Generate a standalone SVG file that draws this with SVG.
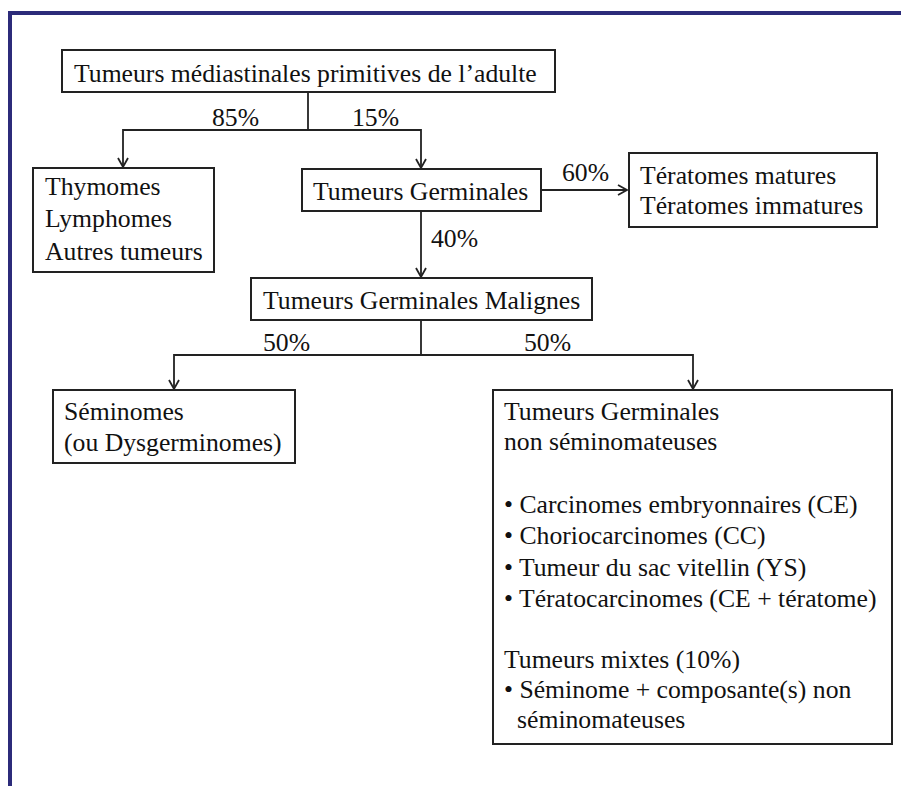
<svg xmlns="http://www.w3.org/2000/svg" width="901" height="786" viewBox="0 0 901 786">
<style>
.box{fill:#fff;stroke:#222;stroke-width:2}
.ln{fill:none;stroke:#222;stroke-width:1.8}
</style>
<defs>
<marker id="ah" markerWidth="12" markerHeight="12" viewBox="0 0 12 12" refX="10" refY="6" orient="auto" markerUnits="userSpaceOnUse">
<path d="M1,1 L10,6 L1,11" fill="none" stroke="#222" stroke-width="1.8"/>
</marker>
</defs>
<rect width="901" height="786" fill="#fff"/>
<path d="M10,786 V13 H901" fill="none" stroke="#2c2b7a" stroke-width="4"/>
<g font-family="Liberation Serif, Times New Roman, DejaVu Serif, serif" font-size="25.7" fill="#111">
<g id="connectors">
<path class="ln" d="M308,92 V130"/>
<path class="ln" d="M308,130 H123 V167" marker-end="url(#ah)"/>
<path class="ln" d="M308,130 H421 V168" marker-end="url(#ah)"/>
<path class="ln" d="M541,190 H627" marker-end="url(#ah)"/>
<path class="ln" d="M421,211 V277" marker-end="url(#ah)"/>
<path class="ln" d="M421,320 V355"/>
<path class="ln" d="M421,355 H174 V389" marker-end="url(#ah)"/>
<path class="ln" d="M421,355 H693 V389" marker-end="url(#ah)"/>
<text x="212" y="126">85%</text>
<text x="352" y="126">15%</text>
<text x="562" y="181">60%</text>
<text x="431" y="247">40%</text>
<text x="263" y="351">50%</text>
<text x="524" y="351">50%</text>
</g>
<g id="n-root">
<rect class="box" x="62" y="50" width="493" height="42"/>
<text x="74" y="82">Tumeurs médiastinales primitives de l’adulte</text>
</g>
<g id="n-thymomes">
<rect class="box" x="33" y="168" width="181" height="104"/>
<text x="45" y="195">Thymomes</text>
<text x="45" y="227">Lymphomes</text>
<text x="45" y="260">Autres tumeurs</text>
</g>
<g id="n-germinales">
<rect class="box" x="302" y="169" width="239" height="42"/>
<text x="313" y="200">Tumeurs Germinales</text>
</g>
<g id="n-teratomes">
<rect class="box" x="629" y="153" width="248" height="74"/>
<text x="640" y="184">Tératomes matures</text>
<text x="640" y="214">Tératomes immatures</text>
</g>
<g id="n-malignes">
<rect class="box" x="251" y="278" width="341" height="42"/>
<text x="263" y="309">Tumeurs Germinales Malignes</text>
</g>
<g id="n-seminomes">
<rect class="box" x="53" y="390" width="242" height="73"/>
<text x="64" y="420">Séminomes</text>
<text x="64" y="451">(ou Dysgerminomes)</text>
</g>
<g id="n-nonsemino">
<rect class="box" x="493" y="390" width="399" height="354"/>
<text x="504" y="420">Tumeurs Germinales</text>
<text x="504" y="450">non séminomateuses</text>
<text x="504" y="513">• Carcinomes embryonnaires (CE)</text>
<text x="504" y="544">• Choriocarcinomes (CC)</text>
<text x="504" y="576">• Tumeur du sac vitellin (YS)</text>
<text x="504" y="607">• Tératocarcinomes (CE + tératome)</text>
<text x="504" y="668">Tumeurs mixtes (10%)</text>
<text x="504" y="698">• Séminome + composante(s) non</text>
<text x="517" y="728">séminomateuses</text>
</g>
</g>
</svg>
